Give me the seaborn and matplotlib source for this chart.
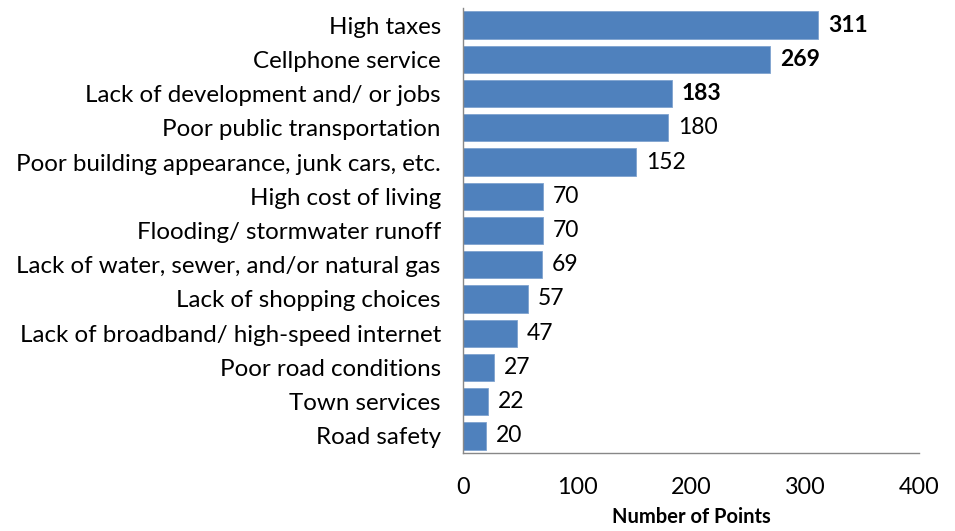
import matplotlib
matplotlib.use("Agg")
import matplotlib.pyplot as plt
import seaborn as sns
import pandas as pd

categories = [
    "High taxes",
    "Cellphone service",
    "Lack of development and/ or jobs",
    "Poor public transportation",
    "Poor building appearance, junk cars, etc.",
    "High cost of living",
    "Flooding/ stormwater runoff",
    "Lack of water, sewer, and/or natural gas",
    "Lack of shopping choices",
    "Lack of broadband/ high-speed internet",
    "Poor road conditions",
    "Town services",
    "Road safety",
]
points = [311, 269, 183, 180, 152, 70, 70, 69, 57, 47, 27, 22, 20]
bold_labels = [True, True, True] + [False] * 10
x_ticks = [0, 100, 200, 300, 400]

sns.set_theme(style="white")
plt.rcParams["font.family"] = ["Lato", "DejaVu Sans"]

df = pd.DataFrame({"Issue": categories, "Points": points})

fig = plt.figure(figsize=(9.55, 5.31), dpi=100)
ax = fig.add_axes([463 / 955, 1 - 453 / 531, (919 - 463) / 955, (453 - 8) / 531])

sns.barplot(data=df, x="Points", y="Issue", color="#4F81BD", saturation=1,
            width=0.8, ax=ax, orient="h", edgecolor="#7FA3CF", linewidth=0.6)

for p, v, b in zip(ax.patches, points, bold_labels):
    y = p.get_y() + p.get_height() / 2
    ax.text(v + 9, y, f"{v}", va="center", ha="left", fontsize=16.5,
            fontweight="bold" if b else "normal", color="black")

ax.set_xlim(0, 400)
ax.set_xticks(x_ticks)
ax.set_xticklabels([str(t) for t in x_ticks], fontsize=16.8)
ax.set_ylim(len(categories) - 0.5, -0.5)
ax.set_yticks([i - 0.5 for i in range(len(categories) + 1)], minor=False)
ax.set_yticklabels([])
ax.set_yticks(range(len(categories)), minor=True)
ax.set_yticklabels(categories, minor=True, fontsize=17.4)
ax.tick_params(axis="y", which="minor", length=0, pad=16, labelcolor="black")
ax.tick_params(axis="y", which="major", length=7, width=1, color="#888888", direction="out")
ax.tick_params(axis="x", length=8, width=1, color="#888888", direction="out", pad=9,
               labelcolor="black")
ax.set_ylabel("")
ax.set_xlabel("Number of Points", fontsize=14.5, fontweight="bold", labelpad=7,
              color="black")

for side in ["top", "right"]:
    ax.spines[side].set_visible(False)
for side in ["left", "bottom"]:
    ax.spines[side].set_color("#888888")
    ax.spines[side].set_linewidth(1)

fig.savefig("out.png", dpi=100)
